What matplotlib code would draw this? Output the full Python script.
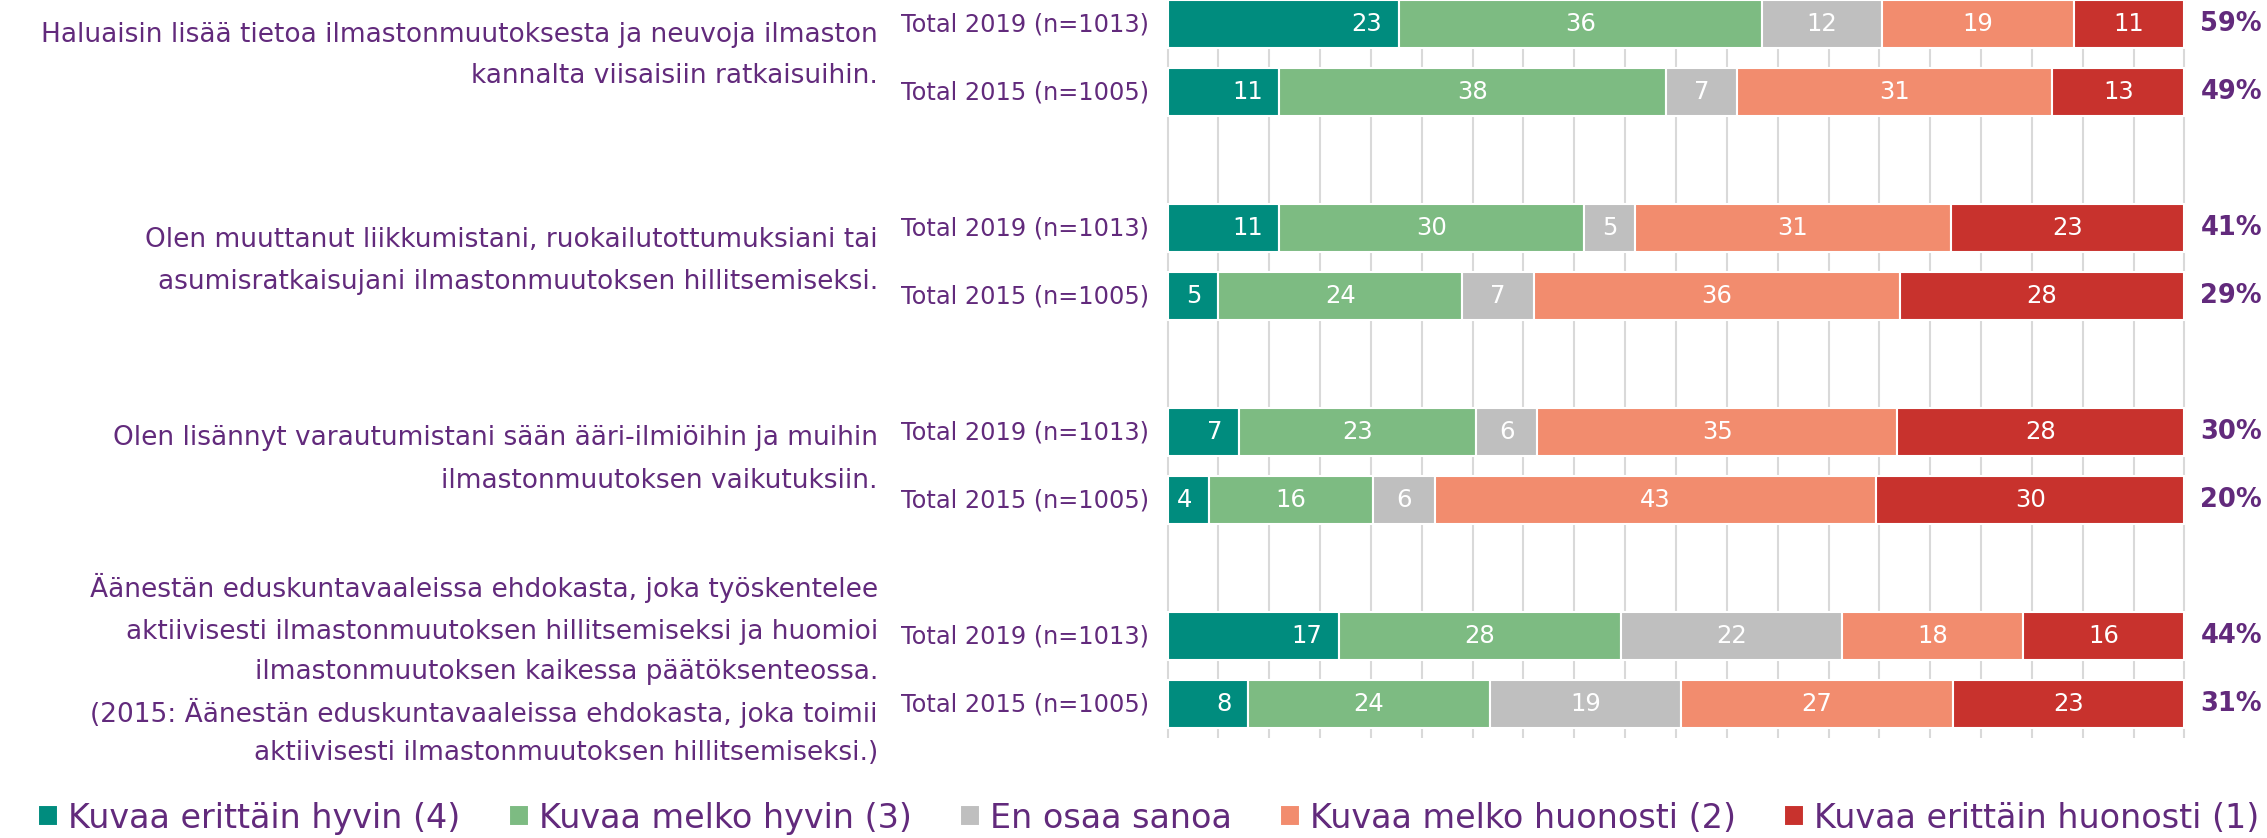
import matplotlib
matplotlib.use("Agg")
import matplotlib.pyplot as plt
import matplotlib.transforms as mtransforms
import numpy as np

# ---------------- data ----------------
series_names = ["Kuvaa erittäin hyvin (4)", "Kuvaa melko hyvin (3)", "En osaa sanoa",
                "Kuvaa melko huonosti (2)", "Kuvaa erittäin huonosti (1)"]
very_well = [23, 11, 11, 5, 7, 4, 17, 8]
fairly_well = [36, 38, 30, 24, 23, 16, 28, 24]
dont_know = [12, 7, 5, 7, 6, 6, 22, 19]
fairly_poorly = [19, 31, 31, 36, 35, 43, 18, 27]
very_poorly = [11, 13, 23, 28, 28, 30, 16, 23]
top2_pct = [59, 49, 41, 29, 30, 20, 44, 31]
row_labels = ["Total 2019 (n=1013)", "Total 2015 (n=1005)"] * 4
statements = [
    ["Haluaisin lisää tietoa ilmastonmuutoksesta ja neuvoja ilmaston",
     "kannalta viisaisiin ratkaisuihin."],
    ["Olen muuttanut liikkumistani, ruokailutottumuksiani tai",
     "asumisratkaisujani ilmastonmuutoksen hillitsemiseksi."],
    ["Olen lisännyt varautumistani sään ääri-ilmiöihin ja muihin",
     "ilmastonmuutoksen vaikutuksiin."],
    ["Äänestän eduskuntavaaleissa ehdokasta, joka työskentelee",
     "aktiivisesti ilmastonmuutoksen hillitsemiseksi ja huomioi",
     "ilmastonmuutoksen kaikessa päätöksenteossa.",
     "(2015: Äänestän eduskuntavaaleissa ehdokasta, joka toimii",
     "aktiivisesti ilmastonmuutoksen hillitsemiseksi.)"],
]

# ---------------- layout / style ----------------
colors = ["#008C7E", "#7DBB82", "#BFBFBF", "#F28C6E", "#C8322D"]
purple = "#622A7C"
slots = [0, 1, 3, 4, 6, 7, 9, 10]
statement_baselines = [
    [0.27, 0.87],
    [3.28, 3.90],
    [6.19, 6.82],
    [8.43, 9.04, 9.63, 10.26, 10.82],
]

W, H = 2267, 838
fig = plt.figure(figsize=(W / 100, H / 100), dpi=100)
ax = fig.add_axes([1166 / W, (H - 738) / H, 1020 / W, 738 / H])

data = np.array([very_well, fairly_well, dont_know, fairly_poorly, very_poorly], float)
norm = data / data.sum(axis=0) * 100.0

left = np.zeros(len(slots))
handles = []
for i in range(len(series_names)):
    bars = ax.barh(slots, norm[i], left=left, height=0.7, color=colors[i],
                   edgecolor="white", linewidth=1.5, zorder=3, label=series_names[i])
    handles.append(bars)
    for j in range(len(slots)):
        val = int(data[i, j])
        if i == 0:
            ax.annotate(str(val), (left[j] + norm[i, j], slots[j]), xytext=(-12, 0),
                        textcoords="offset points", ha="right", va="center",
                        color="white", fontsize=17.5, zorder=4)
        else:
            ax.text(left[j] + norm[i, j] / 2, slots[j], str(val), ha="center",
                    va="center", color="white", fontsize=17.5, zorder=4)
    left += norm[i]

ax.set_xlim(-0.15, 100.15)
ax.set_ylim(10.5, -0.353)
ax.set_xticks(np.arange(0, 101, 5))
ax.set_yticks([])
ax.xaxis.grid(True, color="#D9D9D9", linewidth=1.5, zorder=0)
ax.set_axisbelow(True)
ax.tick_params(length=0, labelbottom=False)
for s in ax.spines.values():
    s.set_visible(False)

trans = mtransforms.blended_transform_factory(ax.transAxes, ax.transData)
for j, y in enumerate(slots):
    ax.text(-0.0167, y, row_labels[j], transform=trans, ha="right", va="center",
            color=purple, fontsize=17.3, clip_on=False)
    ax.text(1.0745, y, f"{top2_pct[j]}%", transform=trans, ha="right", va="center",
            color=purple, fontsize=18.5, fontweight="bold", clip_on=False)

for lines, bases in zip(statements, statement_baselines):
    for line, yb in zip(lines, bases):
        ax.text(-0.2824, yb, line, transform=trans, ha="right", va="baseline",
                color=purple, fontsize=19, clip_on=False)

fig.legend(handles, series_names, loc="center left", bbox_to_anchor=(38 / W, 1 - 818 / H),
           ncol=5, frameon=False, fontsize=24, handlelength=0.6, handleheight=0.6,
           handletextpad=0.3, columnspacing=1.45, borderpad=0, borderaxespad=0,
           labelcolor=purple)

fig.savefig("out.png", dpi=100)
